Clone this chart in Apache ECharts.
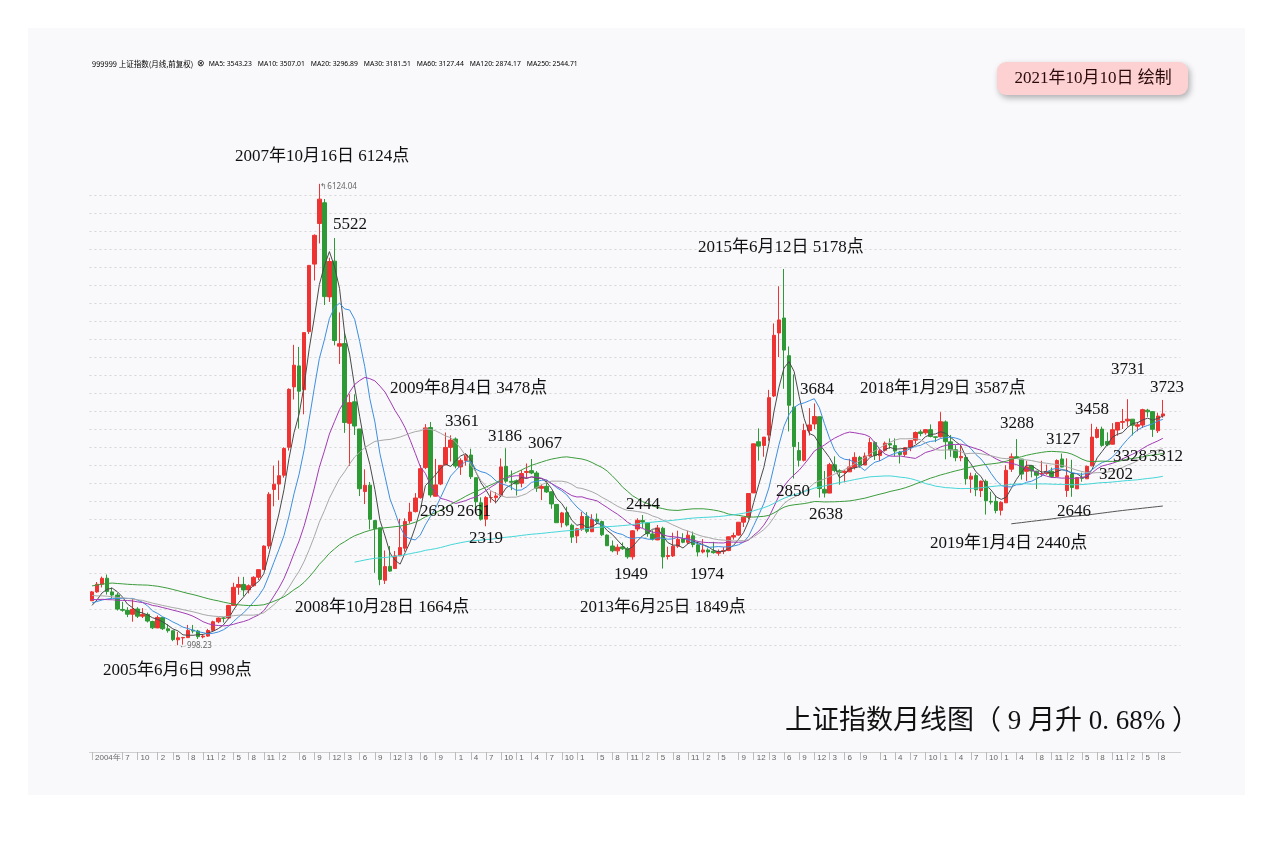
<!DOCTYPE html>
<html><head><meta charset="utf-8">
<script src="https://cdn.jsdelivr.net/npm/echarts@6/dist/echarts.min.js"></script>
<style>html,body{margin:0;padding:0;background:#fff}#c{width:1273px;height:842px}</style>
</head><body><div id="c"></div><script>
// ---------- DATA ----------
// closes before 2004 (used only for moving averages), 1998-06 .. 2003-12
const preCloses = [1339,1356,1156,1242,1218,1248,1147,
 1135,1091,1159,1133,1280,1690,1602,1627,1581,1516,1438,1367,
 1535,1715,1801,1836,1894,1928,2023,2024,1910,1961,2070,2073,
 2066,1960,2112,2120,2214,2218,1921,1834,1730,1690,1747,1646,
 1491,1525,1603,1619,1515,1732,1651,1669,1581,1507,1421,1358,
 1500,1512,1510,1521,1576,1487,1476,1421,1367,1348,1397,1497];
// monthly candles [open, close, low, high]
const k2004 = [[1492,1590,1492,1601],[1590,1675,1580,1700],[1675,1741,1640,1760],[1742,1595,1560,1783],[1590,1555,1520,1640],[1555,1399,1383,1580],[1395,1386,1370,1480],[1385,1342,1310,1420],[1342,1396,1259,1510],[1400,1320,1300,1420],[1320,1340,1300,1410],[1340,1266,1250,1360]];
const k2005 = [[1261,1191,1177,1270],[1190,1306,1187,1328],[1304,1181,1167,1308],[1180,1159,1137,1231],[1158,1060,1043,1162],[1058,1080,998.23,1146],[1079,1083,1004,1090],[1082,1162,1078,1223],[1164,1155,1130,1223],[1155,1092,1067,1168],[1090,1099,1074,1120],[1099,1161,1092,1179]];
const k2006 = [[1163,1258,1151,1270],[1258,1299,1242,1306],[1300,1298,1250,1310],[1300,1440,1298,1445],[1440,1641,1438,1692],[1642,1672,1558,1758],[1673,1612,1541,1757],[1612,1658,1573,1673],[1659,1752,1648,1764],[1753,1837,1722,1839],[1838,2099,1834,2107],[2100,2675,2068,2698]];
const k2007 = [[2728,2786,2541,2994],[2788,2881,2612,3050],[2886,3183,2860,3197],[3197,3841,3160,3852],[3868,4109,3728,4335],[4101,3820,3404,4312],[3836,4471,3563,4472],[4482,5218,4456,5219],[5232,5552,5050,5562],[5683,5954,5462,6124.04],[5914,4871,4778,5955],[4868,5261,4812,5303]];
const k2008 = [[5265,4383,4330,5522],[4320,4348,4123,4695],[4349,3472,3357,4473],[3463,3693,2990,3786],[3702,3433,3333,3786],[3400,2736,2655,3400],[2705,2775,2566,2952],[2776,2397,2284,2811],[2382,2293,1802,2382],[2302,1728,1664,2302],[1719,1871,1678,2050],[1874,1821,1814,2100]];
const k2009 = [[1849,1990,1844,2044],[1991,2082,1990,2402],[2076,2373,2037,2407],[2379,2477,2349,2580],[2482,2633,2473,2688],[2637,2959,2626,3000],[2971,3412,2954,3454],[3416,2667,2639,3478],[2653,2779,2712,3068],[2789,2996,2776,3000],[3002,3195,2998,3361],[3196,3277,3039,3330]];
const k2010 = [[3289,2989,2963,3306],[2979,3051,2890,3075],[3051,3110,2993,3128],[3111,2870,2844,3181],[2859,2592,2481,2860],[2580,2398,2382,2640],[2398,2638,2319,2654],[2638,2639,2581,2708],[2637,2656,2573,2700],[2659,2979,2644,3073],[2985,2820,2801,3186],[2819,2808,2721,2939]];
const k2011 = [[2825,2790,2661,2839],[2798,2905,2752,2944],[2918,2928,2851,3017],[2937,2911,2898,3067],[2911,2743,2701,2932],[2741,2762,2610,2784],[2763,2701,2690,2826],[2702,2567,2514,2707],[2562,2359,2359,2562],[2359,2468,2307,2479],[2470,2333,2317,2536],[2331,2199,2134,2349]];
const k2012 = [[2212,2292,2132,2302],[2286,2428,2268,2478],[2430,2263,2242,2476],[2259,2396,2254,2453],[2398,2373,2341,2461],[2371,2225,2210,2382],[2221,2103,2100,2229],[2100,2047,2030,2161],[2046,2086,2002,2119],[2090,2069,2057,2139],[2069,1980,1959,2089],[1980,2269,1949,2276]];
const k2013 = [[2289,2385,2263,2408],[2382,2366,2300,2444],[2357,2237,2203,2338],[2234,2178,2161,2274],[2168,2301,2164,2334],[2297,1979,1849,2314],[1983,1994,1950,2092],[1990,2098,1978,2248],[2097,2175,2079,2270],[2179,2141,2131,2242],[2141,2220,2122,2269],[2213,2116,2085,2260]];
const k2014 = [[2113,2033,1984,2134],[2033,2056,2018,2177],[2056,2033,1974,2075],[2043,2026,2015,2146],[2020,2039,1991,2061],[2042,2048,2010,2087],[2049,2202,2043,2205],[2200,2217,2171,2248],[2221,2364,2215,2367],[2365,2420,2311,2421],[2420,2683,2398,2683],[2690,3235,2695,3239]];
const k2015 = [[3258,3210,3049,3407],[3217,3310,3092,3310],[3332,3748,3269,3835],[3767,4441,3755,4573],[4467,4612,4199,4986],[4633,4277,3847,5178],[4214,3664,3373,4317],[3643,3206,2850,4006],[3160,3053,2983,3256],[3052,3383,3039,3459],[3382,3445,3327,3632],[3456,3539,3399,3684]];
const k2016 = [[3536,2738,2638,3538],[2730,2688,2639,2934],[2688,3004,2733,3024],[3002,2938,2918,3096],[2936,2917,2781,2952],[2918,2930,2808,2943],[2924,2979,2936,3069],[2971,3085,2950,3141],[3085,3005,2969,3101],[3000,3100,3000,3138],[3100,3250,3093,3301],[3249,3104,3056,3264]];
const k2017 = [[3105,3159,3044,3179],[3164,3242,3149,3261],[3237,3223,3180,3295],[3216,3155,3099,3296],[3144,3117,3017,3155],[3118,3192,3091,3199],[3198,3273,3153,3276],[3276,3361,3236,3373],[3368,3349,3320,3391],[3358,3393,3337,3400],[3393,3317,3307,3451],[3313,3307,3254,3315]];
const k2018 = [[3314,3481,3306,3587],[3479,3259,3063,3495],[3257,3169,3091,3334],[3169,3082,3041,3220],[3080,3095,3041,3220],[3084,2847,2782,3114],[2843,2876,2691,2915],[2882,2725,2653,2909],[2716,2821,2644,2827],[2819,2603,2449,2839],[2596,2588,2561,2703],[2596,2494,2463,2664]];
const k2019 = [[2497,2585,2440,2597],[2580,2941,2578,2997],[2954,3091,2923,3129],[3092,3078,3074,3288],[3066,2899,2838,3066],[2930,2979,2823,3047],[2992,2933,2863,2980],[2931,2886,2733,2935],[2902,2905,2870,3047],[2905,2929,2892,3004],[2930,2872,2857,2972],[2872,3050,2866,3063]];
const k2020 = [[3067,2977,2975,3127],[2716,2880,2646,3074],[2899,2750,2647,3058],[2735,2860,2742,2866],[2860,2852,2814,2915],[2847,2985,2889,2994],[2991,3310,2986,3458],[3306,3396,3295,3424],[3399,3218,3202,3426],[3262,3225,3208,3363],[3231,3392,3237,3465],[3388,3473,3326,3474]];
const k2021 = [[3474,3483,3400,3623],[3490,3509,3427,3731],[3509,3442,3328,3511],[3431,3447,3374,3478],[3444,3615,3411,3625],[3609,3591,3535,3624],[3593,3397,3312,3599],[3380,3544,3356,3581],[3545,3568,3525,3723]];
const candles = [].concat(k2004,k2005,k2006,k2007,k2008,k2009,k2010,k2011,k2012,k2013,k2014,k2015,k2016,k2017,k2018,k2019,k2020,k2021);
const closes = candles.map(c => c[1]);

const tickMonths = ['2004-01','2004-07','2004-10','2005-02','2005-05','2005-08','2005-11','2006-02','2006-05','2006-08','2006-11','2007-02','2007-06','2007-09','2007-12','2008-03','2008-06','2008-09','2008-12','2009-03','2009-06','2009-09','2010-01','2010-04','2010-07','2010-10','2011-01','2011-04','2011-07','2011-10','2012-01','2012-05','2012-08','2012-11','2013-02','2013-05','2013-08','2013-11','2014-02','2014-05','2014-09','2014-12','2015-03','2015-06','2015-09','2015-12','2016-03','2016-06','2016-09','2017-01','2017-04','2017-07','2017-10','2018-01','2018-04','2018-07','2018-10','2019-01','2019-04','2019-08','2019-11','2020-02','2020-05','2020-08','2020-11','2021-02','2021-05','2021-08'];

const maPeriods = [5,10,20,30,60,120,250];
const maColors  = ['#4a4a4a','#3d8fe0','#a23bb4','#a8a8a8','#3c9c3c','#45d6d8','#555555'];
const legendValues = ['3543.23','3507.01','3296.89','3181.51','3127.44','2874.17','2544.71'];

const annotations = [
 ['2007年10月16日 6124点',235,157],['5522',333,225],['2015年6月12日 5178点',698,248],
 ['2009年8月4日 3478点',390,389],['3684',800,390],['2018年1月29日 3587点',860,389],
 ['3731',1111,370],['3723',1150,388],['3361',445,422],['3186',488,437],['3067',528,444],
 ['3288',1000,424],['3458',1075,410],['3127',1046,440],['3328',1113,457],['3312',1149,457],
 ['3202',1099,475],['2646',1057,512],['2019年1月4日 2440点',930,544],['2639',420,512],
 ['2661',457,512],['2319',469,539],['2850',776,492],['2638',809,515],['2444',626,505],
 ['1949',614,575],['1974',690,575],['2008年10月28日 1664点',295,608],
 ['2013年6月25日 1849点',580,608],['2005年6月6日 998点',103,671]
];

// ---------- BUILD ----------
const months = [];
for (let y = 2004; y <= 2021; y++) for (let m = 1; m <= 12; m++) months.push(y + '-' + String(m).padStart(2, '0'));
const tickSet = new Set(tickMonths);

function movingAverage(n) {
  const all = preCloses.concat(closes), off = preCloses.length;
  return closes.map((c, i) => {
    const j = i + off;
    if (j < n - 1) return '-';
    let s = 0; for (let k = j - n + 1; k <= j; k++) s += all[k];
    return +(s / n).toFixed(2);
  });
}

const serif = "'Liberation Serif','Noto Sans CJK SC',serif";
const UP = '#ee3333', DOWN = '#2e9a36';

const series = [{
  type: 'candlestick', data: candles, barWidth: 4, clip: false,
  itemStyle: {color: UP, color0: DOWN, borderColor: UP, borderColor0: DOWN, borderWidth: 1},
  z: 3
}];
maPeriods.forEach((n, i) => series.push({
  type: 'line', data: movingAverage(n), showSymbol: false, symbol: 'none', silent: true,
  lineStyle: {width: 1, color: maColors[i]}, z: 4
}));

let legendText = '{a|999999 上证指数(月线,前复权)} {b|\u2297}';
const rich = {a: {fontSize: 7.5, color: '#555', fontFamily: 'Noto Sans CJK SC'}, b: {fontSize: 8.5, color: '#777', padding: [0, 1, 0, 0]}};
maPeriods.forEach((n, i) => {
  legendText += '{m' + i + '|MA' + n + ': ' + legendValues[i] + '}';
  rich['m' + i] = {fontSize: 6.8, color: maColors[i] === '#4a4a4a' ? '#555' : maColors[i], fontFamily: 'Noto Sans', padding: [0, 3, 0, 3]};
});

const graphic = [
  {type: 'rect', shape: {x: 28, y: 28, width: 1217, height: 767}, style: {fill: '#f9f9fb'}, z: -10},
  {type: 'text', x: 92, y: 64, style: {text: legendText, rich: rich, verticalAlign: 'middle'}, z: 10},
  {type: 'rect', shape: {x: 997, y: 62, width: 191, height: 33, r: 9},
   style: {fill: '#fdd0d2', shadowBlur: 6, shadowColor: 'rgba(0,0,0,0.3)', shadowOffsetX: 2, shadowOffsetY: 3}, z: 10},
  {type: 'text', x: 1093, y: 79, style: {text: '2021年10月10日 绘制', fontSize: 17, fontFamily: serif, fill: '#2a0a0a', align: 'center', verticalAlign: 'middle'}, z: 11},
  {type: 'text', x: 785, y: 722, style: {text: '上证指数月线图（ 9 月升 0. 68% ）', fontSize: 27, fontFamily: serif, fill: '#111', verticalAlign: 'middle'}, z: 10}
];
annotations.forEach(a => graphic.push({
  type: 'text', x: a[1], y: a[2],
  style: {text: a[0], fontSize: 17, fontFamily: serif, fill: '#111', verticalAlign: 'middle'}, z: 10
}));

const chart = echarts.init(document.getElementById('c'), null, {renderer: 'canvas'});
const option = {
  animation: false,
  backgroundColor: '#ffffff',
  grid: {left: 89.5, top: 195, width: 1091, height: 450},
  xAxis: {
    type: 'category', data: months, boundaryGap: true, offset: 107,
    axisLine: {lineStyle: {color: '#cfcfcf'}},
    axisTick: {show: true, interval: i => tickSet.has(months[i]), alignWithLabel: true, length: 8, lineStyle: {color: '#bbb'}},
    axisLabel: {interval: i => tickSet.has(months[i]), formatter: v => v === '2004-01' ? '2004年' : String(+v.slice(5)),
      fontSize: 8, color: '#666', align: 'left', margin: 2, padding: [0, 0, 0, 3]},
    splitLine: {show: false}
  },
  yAxis: {
    type: 'value', min: 1000, max: 6000, interval: 200,
    axisLine: {show: false}, axisTick: {show: false}, axisLabel: {show: false},
    splitLine: {show: true, lineStyle: {color: '#d6d6d6', type: [2, 3], width: 1}}
  },
  series: series,
  graphic: graphic
};
chart.setOption(option);

// extreme value tags, positioned through the chart's own scales
let hiIdx = 0, loIdx = 0;
candles.forEach((c, i) => { if (c[3] > candles[hiIdx][3]) hiIdx = i; if (c[2] < candles[loIdx][2]) loIdx = i; });
const hiPt = chart.convertToPixel({gridIndex: 0}, [months[hiIdx], candles[hiIdx][3]]);
const loPt = chart.convertToPixel({gridIndex: 0}, [months[loIdx], candles[loIdx][2]]);
graphic.push(
  {type: 'text', x: hiPt[0] + 1, y: hiPt[1] + 3, style: {text: '\u21B0' + candles[hiIdx][3].toFixed(2), fontSize: 8, fill: '#666', fontFamily: 'Noto Sans', verticalAlign: 'middle'}, z: 12},
  {type: 'text', x: loPt[0] + 1, y: loPt[1] + 1, style: {text: '\u2190' + candles[loIdx][2].toFixed(2), fontSize: 8, fill: '#666', fontFamily: 'Noto Sans', verticalAlign: 'middle'}, z: 12}
);
chart.setOption({graphic: graphic});
</script></body></html>
